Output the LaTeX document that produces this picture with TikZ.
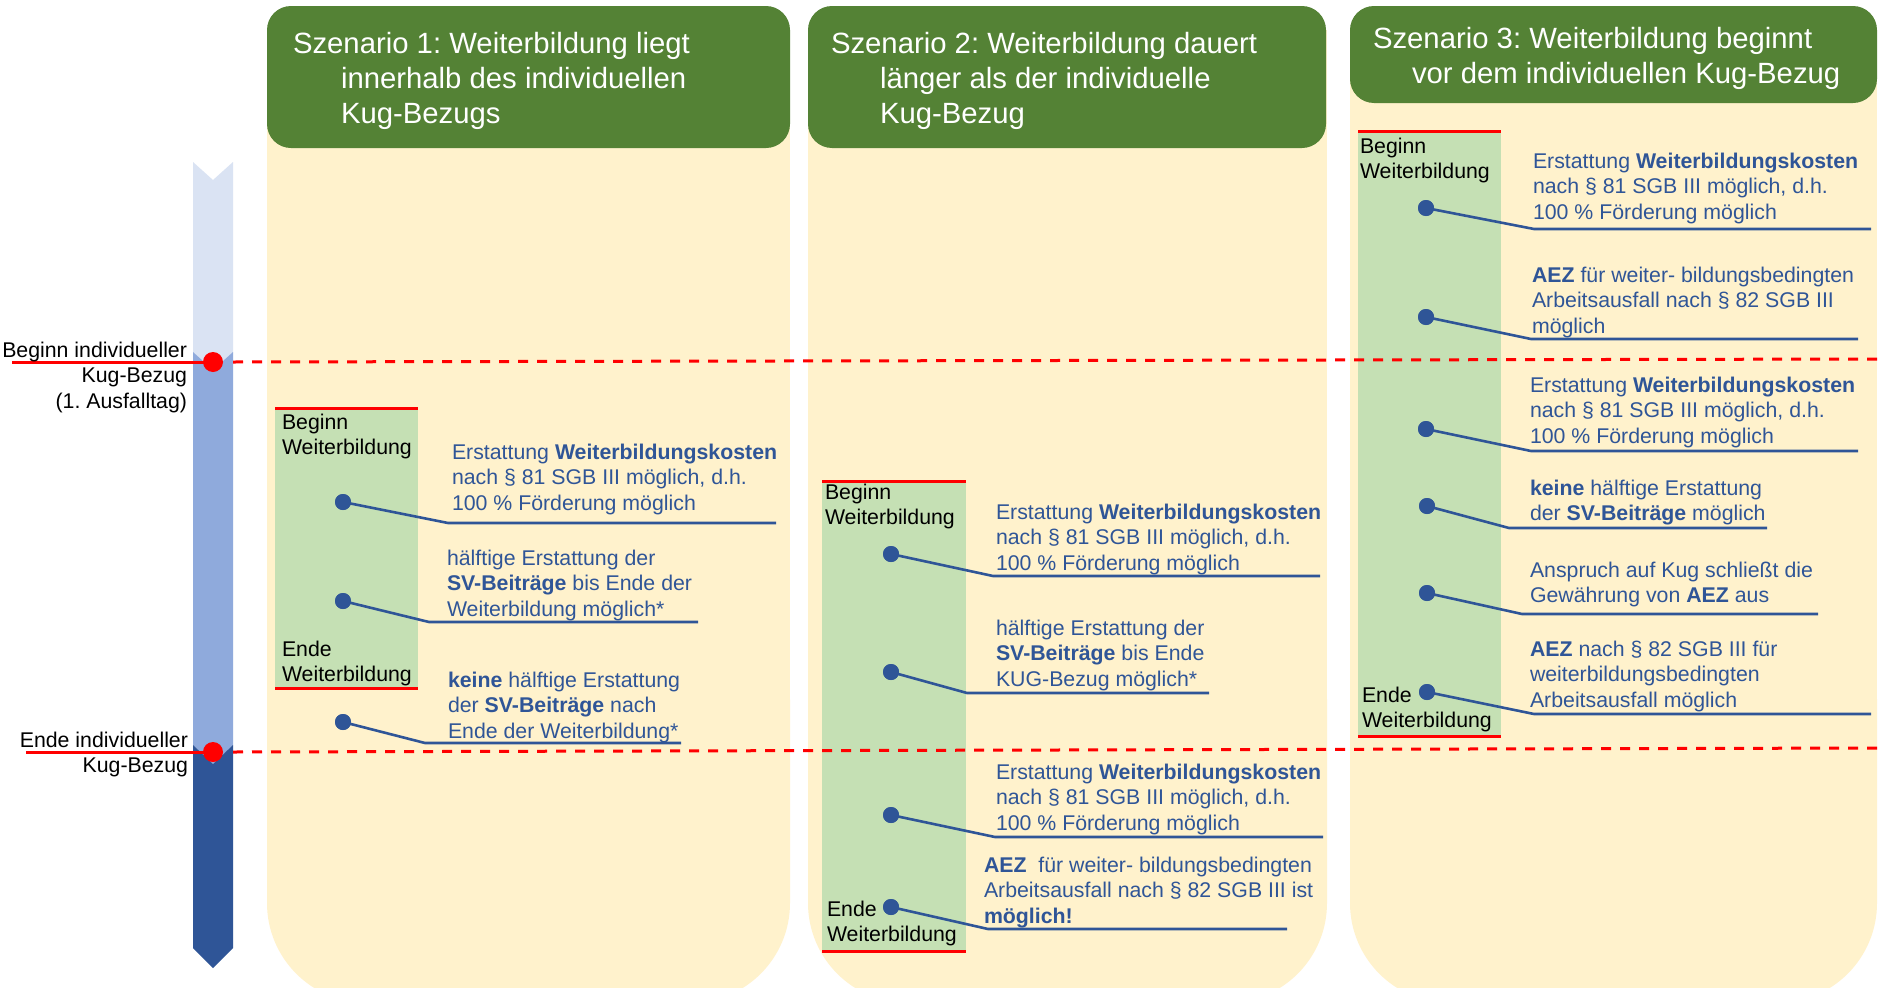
\documentclass[tikz,border=0pt]{standalone}
\usepackage{fontspec}
\setmainfont{Liberation Sans}
\frenchspacing
\definecolor{cream}{HTML}{FFF2CC}
\definecolor{hgreen}{HTML}{548235}
\definecolor{lgreen}{HTML}{C5E0B4}
\definecolor{tblue}{HTML}{2F5597}
\definecolor{barA}{HTML}{DAE3F3}
\definecolor{barB}{HTML}{8FAADC}
\definecolor{barC}{HTML}{2F5597}
\definecolor{kred}{HTML}{FF0000}
\newcommand\Ll[1]{\vtop{\baselineskip=25.5pt\halign{##\hfil\cr#1\crcr}}}
\newcommand\Lr[1]{\vtop{\baselineskip=25.5pt\halign{\hfil##\cr#1\crcr}}}
\newcommand\Lh[1]{\vtop{\baselineskip=35pt\halign{##\hfil\cr#1\crcr}}}
\begin{document}
\begin{tikzpicture}[x=1pt,y=-1pt,
  every node/.style={inner sep=0pt,outer sep=0pt,font=\fontsize{21.3}{25.5}\selectfont},
  tb/.style={anchor=base west,text=tblue},
  bk/.style={anchor=base west,text=black},
  lab/.style={anchor=base east,text=black},
  hd/.style={anchor=base west,text=white,font=\fontsize{29.3}{35}\selectfont},
  bdot/.style={circle,fill=tblue,minimum size=16pt,inner sep=0pt},
  rdot/.style={circle,fill=kred,minimum size=20pt,inner sep=0pt},
  conn/.style={draw=tblue,line width=2.6pt},
  panel/.style={fill=cream},
  head/.style={fill=hgreen,rounded corners=24pt},
  wbox/.style={fill=lgreen},
  redln/.style={draw=kred,line width=3pt},
  reddash/.style={draw=kred,line width=3pt,dash pattern=on 10pt off 9pt}]
\useasboundingbox (0,0) rectangle (1888,988);
\fill[white] (0,0) rectangle (1888,988);

% panels
\foreach \a/\b in {267/790,808/1327,1350/1877}{
  \fill[panel] (\a,30) rectangle (\b,800);
  \fill[panel,rounded corners=100pt] (\a,600) rectangle (\b,1003);
}
\fill[head] (267,6) rectangle (790,148);
\fill[head] (808,6) rectangle (1326,148);
\fill[head] (1350,6) rectangle (1877,103);

% green boxes
\fill[wbox] (275,408) rectangle (418,688);
\fill[wbox] (822,481) rectangle (966,951);
\fill[wbox] (1358,131) rectangle (1501,736);
\draw[redln] (275,408) -- (418,408);
\draw[redln] (275,688) -- (418,688);
\draw[redln] (822,481) -- (966,481);
\draw[redln] (822,951) -- (966,951);
\draw[redln] (1358,131) -- (1501,131);
\draw[redln] (1358,736) -- (1501,736);

% time bar
\fill[barA] (193,162) -- (213,180) -- (233,162) -- (233,352) -- (213,370) -- (193,352) -- cycle;
\fill[barB] (193,352) -- (213,370) -- (233,352) -- (233,745) -- (213,764) -- (193,745) -- cycle;
\fill[barC] (193,745) -- (213,764) -- (233,745) -- (233,948) -- (213,968) -- (193,948) -- cycle;

% markers
\coordinate (m1l) at (12,362);
\coordinate (m2l) at (26,752);
\coordinate (m1a) at (233,362);
\coordinate (m1b) at (1877,359);
\coordinate (m2a) at (233,752);
\coordinate (m2b) at (1877,748);
\coordinate (m1c) at (213,362);
\coordinate (m2c) at (213,752);
\draw[redln] (m1l) -- (m1c);
\draw[redln] (m2l) -- (m2c);
\node[rdot] (m1) at (m1c) {};
\node[rdot] (m2) at (m2c) {};
\draw[reddash] (m1a) -- (m1b);
\draw[reddash] (m2a) -- (m2b);

\node[lab] (l1) at (187,357) {\Lr{Beginn individueller\cr Kug-Bezug\cr (1. Ausfalltag)}};
\node[lab] (l2) at (188,747) {\Lr{Ende individueller\cr Kug-Bezug}};

% headers
\node[hd] (h1) at (293,53) {\Lh{Szenario 1: Weiterbildung liegt\cr\kern48pt innerhalb des individuellen\cr\kern48pt Kug-Bezugs}};
\node[hd] (h2) at (831,53) {\Lh{Szenario 2: Weiterbildung dauert\cr\kern49pt länger als der individuelle\cr\kern49pt Kug-Bezug}};
\node[hd] (h3) at (1373,48) {\Lh{Szenario 3: Weiterbildung beginnt\cr\kern39pt vor dem individuellen Kug-Bezug}};

% black labels
\node[bk] (b1) at (282,429) {\Ll{Beginn\cr Weiterbildung}};
\node[bk] (e1) at (282,656) {\Ll{Ende\cr Weiterbildung}};
\node[bk] (b2) at (825,499) {\Ll{Beginn\cr Weiterbildung}};
\node[bk] (e2) at (827,916) {\Ll{Ende\cr Weiterbildung}};
\node[bk] (b3) at (1360,153) {\Ll{Beginn\cr Weiterbildung}};
\node[bk] (e3) at (1362,702) {\Ll{Ende\cr Weiterbildung}};

% ---- panel 1 items
\node[tb] (t11) at (452,459) {\Ll{Erstattung \textbf{Weiterbildungskosten}\cr nach § 81 SGB III möglich, d.h.\cr 100 \% Förderung möglich}};
\node[tb] (t12) at (447,565) {\Ll{hälftige Erstattung der\cr \textbf{SV-Beiträge} bis Ende der\cr Weiterbildung möglich*}};
\node[tb] (t13) at (448,687) {\Ll{\textbf{keine} hälftige Erstattung\cr der \textbf{SV-Beiträge} nach\cr Ende der Weiterbildung*}};
\node[bdot] (d11) at (343,502) {};
\node[bdot] (d12) at (343,601) {};
\node[bdot] (d13) at (343,722) {};
\coordinate (k11) at (448,523); \coordinate (z11) at (776,523);
\coordinate (k12) at (429,622); \coordinate (z12) at (698,622);
\coordinate (k13) at (425,743); \coordinate (z13) at (681,743);
\draw[conn] (d11.center) -- (k11) -- (z11);
\draw[conn] (d12.center) -- (k12) -- (z12);
\draw[conn] (d13.center) -- (k13) -- (z13);

% ---- panel 2 items
\node[tb] (t21) at (996,519) {\Ll{Erstattung \textbf{Weiterbildungskosten}\cr nach § 81 SGB III möglich, d.h.\cr 100 \% Förderung möglich}};
\node[tb] (t22) at (996,635) {\Ll{hälftige Erstattung der\cr \textbf{SV-Beiträge} bis Ende\cr KUG-Bezug möglich*}};
\node[tb] (t23) at (996,779) {\Ll{Erstattung \textbf{Weiterbildungskosten}\cr nach § 81 SGB III möglich, d.h.\cr 100 \% Förderung möglich}};
\node[tb] (t24) at (984,872) {\Ll{\textbf{AEZ}\ \ für weiter- bildungsbedingten\cr Arbeitsausfall nach § 82 SGB III ist\cr \textbf{möglich!}}};
\node[bdot] (d21) at (891,554) {};
\node[bdot] (d22) at (891,672) {};
\node[bdot] (d23) at (891,815) {};
\node[bdot] (d24) at (891,907) {};
\coordinate (k21) at (993,576); \coordinate (z21) at (1320,576);
\coordinate (k22) at (967,693); \coordinate (z22) at (1209,693);
\coordinate (k23) at (995,837); \coordinate (z23) at (1323,837);
\coordinate (k24) at (988,929); \coordinate (z24) at (1287,929);
\draw[conn] (d21.center) -- (k21) -- (z21);
\draw[conn] (d22.center) -- (k22) -- (z22);
\draw[conn] (d23.center) -- (k23) -- (z23);
\draw[conn] (d24.center) -- (k24) -- (z24);

% ---- panel 3 items
\node[tb] (t31) at (1533,168) {\Ll{Erstattung \textbf{Weiterbildungskosten}\cr nach § 81 SGB III möglich, d.h.\cr 100 \% Förderung möglich}};
\node[tb] (t32) at (1532,282) {\Ll{\textbf{AEZ} für weiter- bildungsbedingten\cr Arbeitsausfall nach § 82 SGB III\cr möglich}};
\node[tb] (t33) at (1530,392) {\Ll{Erstattung \textbf{Weiterbildungskosten}\cr nach § 81 SGB III möglich, d.h.\cr 100 \% Förderung möglich}};
\node[tb] (t34) at (1530,495) {\Ll{\textbf{keine} hälftige Erstattung\cr der \textbf{SV-Beiträge} möglich}};
\node[tb] (t35) at (1530,577) {\Ll{Anspruch auf Kug schließt die\cr Gewährung von \textbf{AEZ} aus}};
\node[tb] (t36) at (1530,656) {\Ll{\textbf{AEZ} nach § 82 SGB III für\cr weiterbildungsbedingten\cr Arbeitsausfall möglich}};
\node[bdot] (d31) at (1426,208) {};
\node[bdot] (d32) at (1426,317) {};
\node[bdot] (d33) at (1426,429) {};
\node[bdot] (d34) at (1427,506) {};
\node[bdot] (d35) at (1427,593) {};
\node[bdot] (d36) at (1427,692) {};
\coordinate (k31) at (1534,229); \coordinate (z31) at (1871,229);
\coordinate (k32) at (1531,339); \coordinate (z32) at (1858,339);
\coordinate (k33) at (1531,451); \coordinate (z33) at (1858,451);
\coordinate (k34) at (1509,528); \coordinate (z34) at (1767,528);
\coordinate (k35) at (1522,614); \coordinate (z35) at (1818,614);
\coordinate (k36) at (1534,714); \coordinate (z36) at (1871,714);
\draw[conn] (d31.center) -- (k31) -- (z31);
\draw[conn] (d32.center) -- (k32) -- (z32);
\draw[conn] (d33.center) -- (k33) -- (z33);
\draw[conn] (d34.center) -- (k34) -- (z34);
\draw[conn] (d35.center) -- (k35) -- (z35);
\draw[conn] (d36.center) -- (k36) -- (z36);
\foreach \n in {d11,d12,d13,d21,d22,d23,d24,d31,d32,d33,d34,d35,d36}{\node[bdot] at (\n) {};}
\end{tikzpicture}
\end{document}
